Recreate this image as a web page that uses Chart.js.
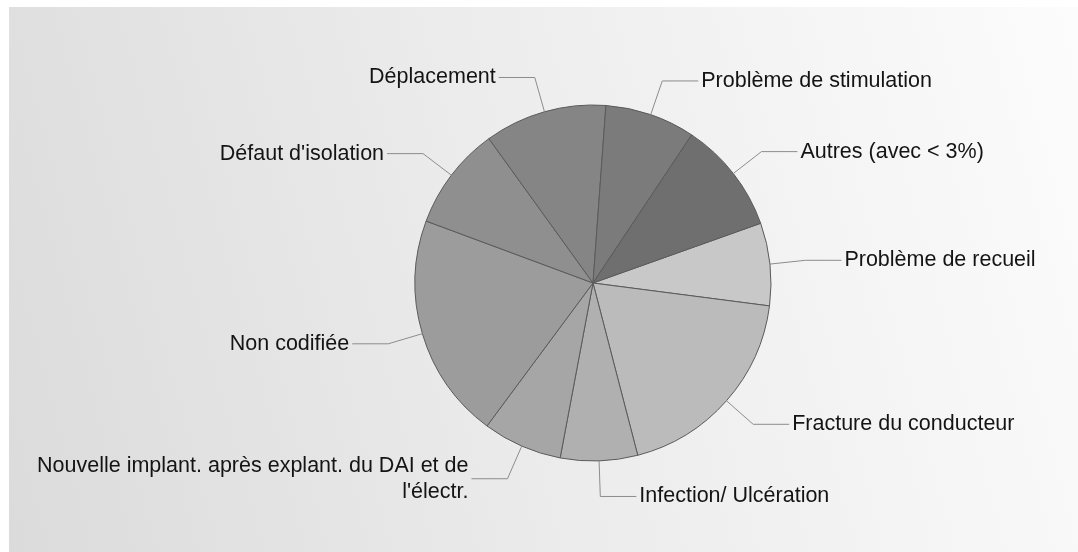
<!DOCTYPE html>
<html>
<head>
<meta charset="utf-8">
<script src="https://cdn.jsdelivr.net/npm/chart.js@4/dist/chart.umd.min.js"></script>
<style>
  html, body { margin: 0; padding: 0; background: #ffffff; }
  #wrap { position: relative; width: 1078px; height: 552px; overflow: hidden; }
  #bg { position: absolute; left: 9px; top: 7px; right: 0; bottom: 0;
        background: linear-gradient(75deg, #dbdbdb 0%, #ebebeb 45%, #fcfcfc 100%); }
  canvas { position: absolute; left: 0; top: 0; }
</style>
</head>
<body>
<div id="wrap">
  <div id="bg"></div>
  <canvas id="c" width="1078" height="552"></canvas>
</div>
<script>
// Categories (in drawing order, clockwise)
const categories = [
  "Problème de recueil",
  "Fracture du conducteur",
  "Infection/ Ulcération",
  "Nouvelle implant. après explant. du DAI et de\nl'électr.",
  "Non codifiée",
  "Défaut d'isolation",
  "Déplacement",
  "Problème de stimulation",
  "Autres (avec < 3%)"
];
// Share of each category (%)
const values = [7.5, 18.9, 7.0, 7.2, 20.5, 9.4, 11.1, 8.2, 10.2];
// Slice fill colours
const sliceColors = ["#c8c8c8", "#bbbbbb", "#b0b0b0", "#a6a6a6", "#9c9c9c", "#8f8f8f", "#858585", "#7b7b7b", "#6f6f6f"];

const FONT = "21.5px 'Liberation Sans', Arial, sans-serif";

const leaderLabels = {
  id: 'leaderLabels',
  afterDatasetsDraw(chart) {
    const ctx = chart.ctx;
    const meta = chart.getDatasetMeta(0);
    ctx.save();
    ctx.font = FONT;
    ctx.textBaseline = 'middle';
    meta.data.forEach((arc, i) => {
      const p = arc.getProps(['x', 'y', 'startAngle', 'endAngle', 'outerRadius'], true);
      const mid = (p.startAngle + p.endAngle) / 2;
      const c = Math.cos(mid), s = Math.sin(mid);
      const ax = p.x + p.outerRadius * c, ay = p.y + p.outerRadius * s;
      const ex = p.x + p.outerRadius * 1.2 * c, ey = p.y + p.outerRadius * 1.2 * s;
      const dir = c >= 0 ? 1 : -1;
      const hx = ex + dir * 36;
      ctx.strokeStyle = '#8c8c8c';
      ctx.lineWidth = 1;
      ctx.beginPath();
      ctx.moveTo(ax, ay);
      ctx.lineTo(ex, ey);
      ctx.lineTo(hx, ey);
      ctx.stroke();
      const lines = String(chart.data.labels[i]).split('\n');
      const lh = 26;
      const tx = hx + dir * 3;
      ctx.fillStyle = '#141414';
      ctx.textAlign = dir > 0 ? 'left' : 'right';
      const y0 = ey - (lines.length - 1) * lh / 2;
      lines.forEach((ln, k) => ctx.fillText(ln, tx, y0 + k * lh));
    });
    ctx.restore();
  }
};

new Chart(document.getElementById('c'), {
  type: 'pie',
  data: {
    labels: categories,
    datasets: [{
      data: values,
      backgroundColor: sliceColors,
      borderColor: '#5a5a5a',
      borderWidth: 1,
      hoverOffset: 0
    }]
  },
  options: {
    responsive: false,
    animation: false,
    events: [],
    rotation: 70.4,
    radius: 178,
    layout: { padding: { left: 108, right: 0, top: 14, bottom: 0 } },
    plugins: { legend: { display: false }, tooltip: { enabled: false } }
  },
  plugins: [leaderLabels]
});
</script>
</body>
</html>
